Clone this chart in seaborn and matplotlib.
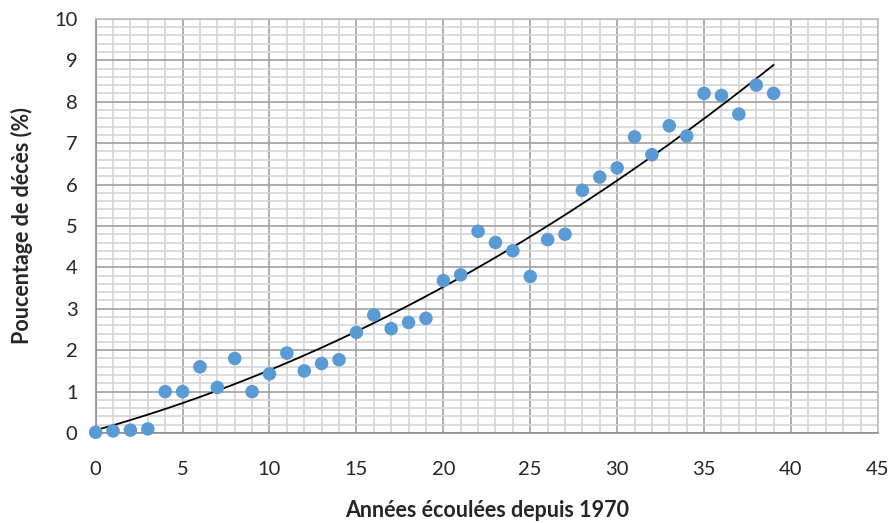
import numpy as np
import pandas as pd
import matplotlib.pyplot as plt
import seaborn as sns
from matplotlib.ticker import MultipleLocator

# %% podaci

annees = list(range(40))
deces = [0.02, 0.05, 0.07, 0.10, 1.00, 1.00, 1.60, 1.10, 1.80, 1.00,
         1.43, 1.93, 1.50, 1.68, 1.77, 2.43, 2.85, 2.52, 2.67, 2.77,
         3.68, 3.82, 4.87, 4.60, 4.40, 3.78, 4.67, 4.80, 5.86, 6.18,
         6.40, 7.15, 6.72, 7.42, 7.17, 8.20, 8.15, 7.70, 8.40, 8.20]
x_ticks = [0, 5, 10, 15, 20, 25, 30, 35, 40, 45]
y_ticks = list(range(11))

df = pd.DataFrame({'annee': annees, 'deces': deces})

# %% graphique

sns.set_style('white')
plt.rcParams['font.family'] = ['Lato', 'DejaVu Sans']

fig = plt.figure(figsize=(8.94, 5.23), dpi=100)
ax = fig.add_axes([0.107, 0.172, 0.875, 0.792])

# courbe de tendance polynomiale (ordre 2)
coef = np.polyfit(df['annee'], df['deces'], 2)
xx = np.linspace(0, 39, 200)
sns.lineplot(x=xx, y=np.polyval(coef, xx), color='black', linewidth=1.3, ax=ax, zorder=3)

sns.scatterplot(data=df, x='annee', y='deces', color='#5b9bd5', s=95,
                edgecolor='none', ax=ax, zorder=4, clip_on=False)

ax.set_xlim(0, 45)
ax.set_ylim(0, 10)
ax.set_xticks(x_ticks)
ax.set_yticks(y_ticks)
ax.xaxis.set_minor_locator(MultipleLocator(1))
ax.yaxis.set_minor_locator(MultipleLocator(0.2))
ax.grid(which='minor', color='#d6d6d6', linewidth=1.2, zorder=0)
ax.grid(which='major', color='#a0a0a0', linewidth=1.2, zorder=1)
ax.set_axisbelow(True)

ax.tick_params(axis='both', which='major', direction='out', length=5, width=1,
               color='#a0a0a0', labelsize=14.5, pad=8)
ax.tick_params(axis='both', which='minor', length=0)
ax.tick_params(axis='x', pad=15)

for side in ['left', 'bottom']:
    ax.spines[side].set_color('#909090')
    ax.spines[side].set_linewidth(1.2)
for side in ['top', 'right']:
    ax.spines[side].set_color('#c0c0c0')
    ax.spines[side].set_linewidth(1.2)

ax.set_xlabel('Années écoulées depuis 1970', fontsize=15.5, fontweight='bold', labelpad=16)
ax.set_ylabel('Poucentage de décès (%)', fontsize=15.5, fontweight='bold', labelpad=15)

plt.savefig('out.png', dpi=100)
